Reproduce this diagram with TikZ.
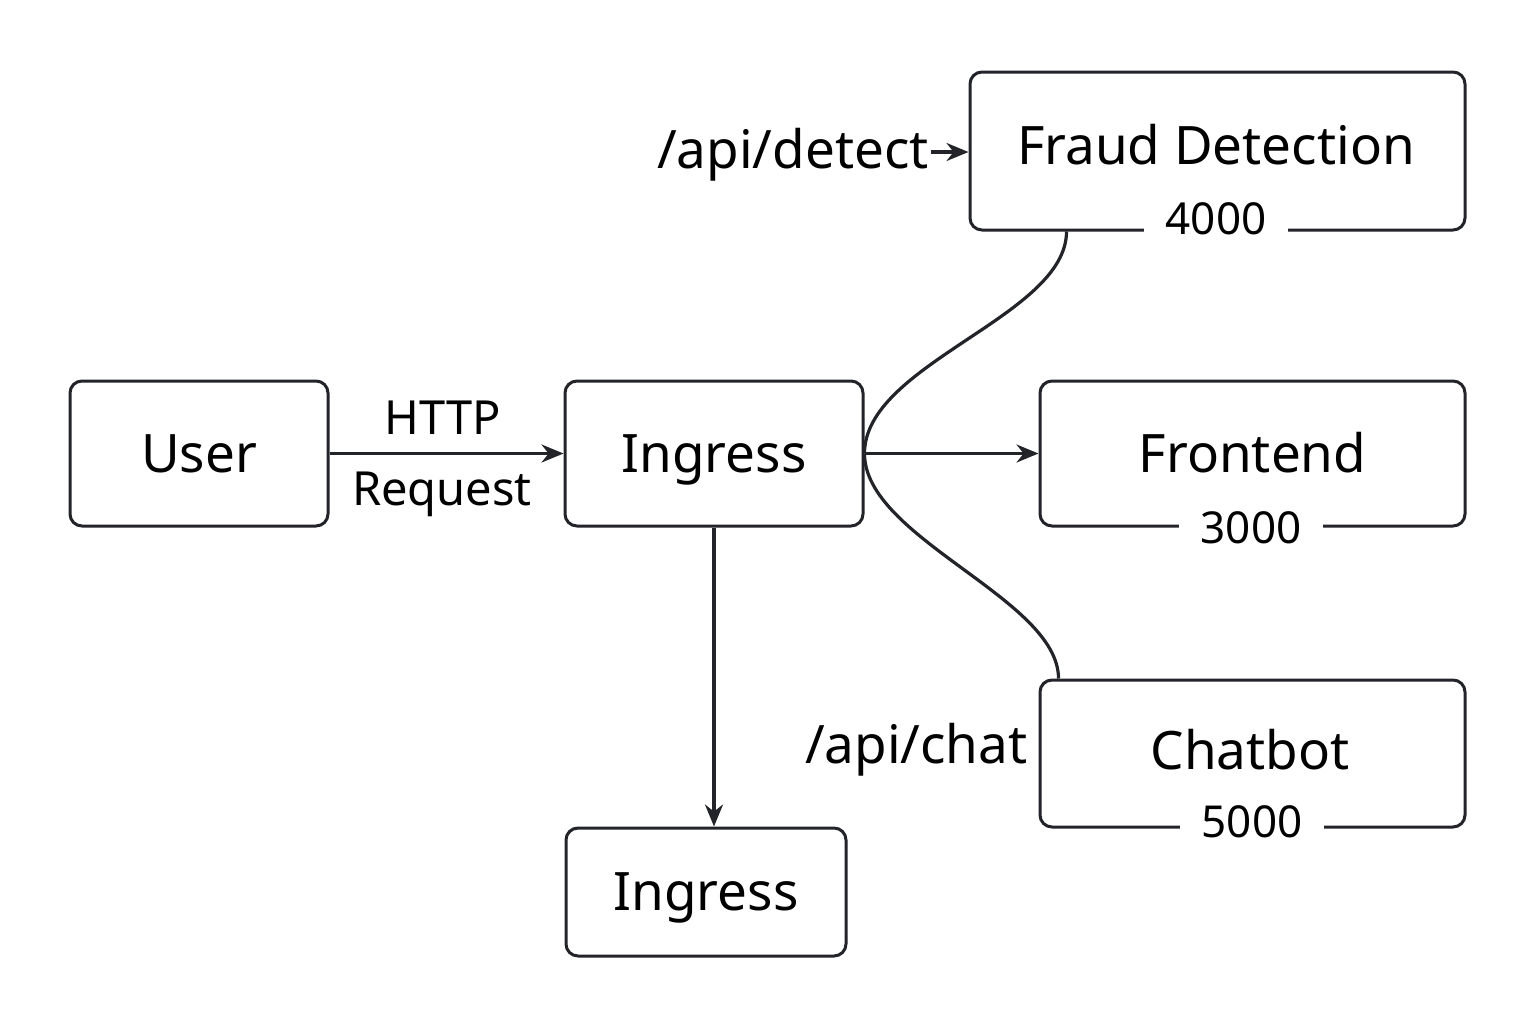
\documentclass[tikz,border=0pt]{standalone}
\usepackage{fontspec}
\setmainfont{Noto Sans}
\usetikzlibrary{arrows.meta,calc}
\definecolor{ink}{HTML}{23242A}
\begin{document}
\begin{tikzpicture}[x=0.5pt,y=-0.5pt,
  box/.style={draw=ink,line width=1.5pt,rounded corners=6pt,fill=white,inner sep=0pt,text height=22pt,text depth=3.1pt,font=\fontsize{26.5}{30}\selectfont},
  port/.style={fill=white,inner xsep=11pt,inner ysep=1pt,text height=18pt,text depth=2.3pt,font=\fontsize{22}{24}\selectfont,text=black},
  lbl/.style={inner sep=0pt,text height=22pt,text depth=3.1pt,font=\fontsize{26.5}{30}\selectfont},
  elbl/.style={inner sep=0pt,text height=20pt,text depth=3.2pt,font=\fontsize{23.5}{26}\selectfont},
  conn/.style={draw=ink,line width=1.6pt},
  arr/.style={conn,-{Stealth[length=11pt,width=9pt]}}]
\useasboundingbox (0,0) rectangle (1536,1024);
% boxes
\node[box,minimum width=129pt,minimum height=72.5pt] (user) at (199,453.5) {User};
\node[box,minimum width=149pt,minimum height=72.5pt] (ingress) at (714,453.5) {Ingress};
\node[box,minimum width=247.5pt,minimum height=79pt] (fraud) at (1217.5,151) {};
\node[lbl] (fraudt) at (1216,146) {Fraud Detection};
\node[box,minimum width=212.5pt,minimum height=72.5pt] (frontend) at (1252.5,453.5) {Frontend};
\node[box,minimum width=212.5pt,minimum height=73.5pt] (chatbot) at (1252.5,753.5) {};
\node[lbl] (chatbott) at (1250,751) {Chatbot};
\node[box,minimum width=140pt,minimum height=64pt] (ingress2) at (706,892) {Ingress};
% port labels on borders
\node[port] (p4000) at (1216,219) {4000};
\node[port] (p3000) at (1251,528) {3000};
\node[port] (p5000) at (1252,822) {5000};
% edge labels
\node[elbl] (http) at (443,418) {HTTP};
\node[elbl] (req) at (442,489) {Request};
\node[lbl,anchor=east] (detect) at (929,150) {/api/detect};
\node[lbl,anchor=east] (chat) at (1028,745) {/api/chat};
% connectors
\draw[arr] (user.east) -- (ingress.west);
\draw[arr] (ingress.east) -- (frontend.west);
\draw[arr] (ingress.south) -- (ingress.south |- ingress2.north);
\draw[arr] ($(detect.east)+(2,2)$) -- ($(detect.east -| fraud.west)+(0,2)$);
\draw[conn] (ingress.east) .. controls ($(ingress.east)+(0,-90)$) and ($(fraud.south west)+(98,85)$) .. ($(fraud.south west)+(98,0)$);
\draw[conn] (ingress.east) .. controls ($(ingress.east)+(0,85)$) and ($(chatbot.north west)+(20,-80)$) .. ($(chatbot.north west)+(20,0)$);
\end{tikzpicture}
\end{document}
